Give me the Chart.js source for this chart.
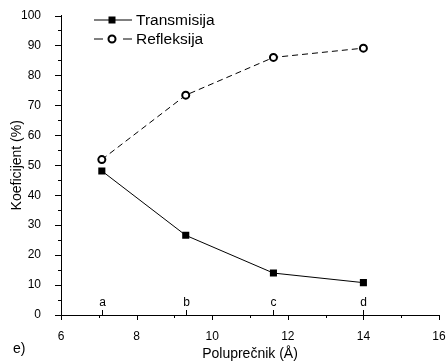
<!DOCTYPE html>
<html>
<head>
<meta charset="utf-8">
<script src="https://cdn.jsdelivr.net/npm/chart.js@4"></script>
<style>
  html, body { margin: 0; padding: 0; background: #fff; }
  #wrap { width: 447px; height: 363px; }
</style>
</head>
<body>
<div id="wrap"><canvas id="chart" width="447" height="363"></canvas></div>
<script>
// values
const radius = [7.08, 9.3, 11.62, 14.0];
const transmisija = [48.1, 26.6, 14.0, 10.8];
const refleksija = [51.9, 73.4, 86.0, 89.1];
const pointNames = ['a', 'b', 'c', 'd'];
const seriesNames = ['Transmisija', 'Refleksija'];

const FONT = 'Liberation Sans, Arial, sans-serif';

// outward ticks (major + minor), legend, a-d markers, "e)"
const decorations = {
    id: 'decorations',
    afterDraw(chart) {
        const ctx = chart.ctx;
        const xs = chart.scales.x, ys = chart.scales.y;
        const area = chart.chartArea;
        ctx.save();
        ctx.strokeStyle = '#000';
        ctx.lineWidth = 1;

        // x ticks
        for (let v = 6; v <= 16; v++) {
            const px = Math.round(xs.getPixelForValue(v)) + 0.5;
            const len = v % 2 === 0 ? 5 : 3;
            ctx.beginPath();
            ctx.moveTo(px, area.bottom);
            ctx.lineTo(px, area.bottom + len);
            ctx.stroke();
        }
        // y ticks
        for (let v = 0; v <= 100; v += 5) {
            const py = Math.round(ys.getPixelForValue(v)) + 0.5;
            const len = v % 10 === 0 ? 6 : 3;
            ctx.beginPath();
            ctx.moveTo(area.left, py);
            ctx.lineTo(area.left - len, py);
            ctx.stroke();
        }

        // a, b, c, d marks
        ctx.fillStyle = '#000';
        ctx.font = '12px ' + FONT;
        ctx.textAlign = 'center';
        ctx.textBaseline = 'alphabetic';
        radius.forEach((r, i) => {
            const px = Math.round(xs.getPixelForValue(r)) + 0.5;
            ctx.beginPath();
            ctx.moveTo(px, area.bottom);
            ctx.lineTo(px, area.bottom - 5);
            ctx.stroke();
            ctx.fillText(pointNames[i], px, area.bottom - 9);
        });

        // legend
        const lx = 94, lw = 38;
        ctx.font = '15.5px ' + FONT;
        ctx.textAlign = 'left';
        ctx.textBaseline = 'middle';
        chart.data.datasets.forEach((ds, i) => {
            const y = 20 + i * 19;
            ctx.strokeStyle = '#000';
            ctx.lineWidth = 1;
            ctx.beginPath();
            if (ds.borderDash) {
                ctx.moveTo(lx, y); ctx.lineTo(lx + 9, y);
                ctx.moveTo(lx + lw - 9, y); ctx.lineTo(lx + lw, y);
            } else {
                ctx.moveTo(lx, y); ctx.lineTo(lx + lw, y);
            }
            ctx.stroke();
            const mx = lx + 18;
            if (ds.pointStyle === 'rect') {
                ctx.fillStyle = '#000';
                ctx.fillRect(mx - 3.5, y - 3.5, 7, 7);
            } else {
                ctx.lineWidth = 2;
                ctx.fillStyle = '#fff';
                ctx.beginPath();
                ctx.arc(mx, y, 3.5, 0, Math.PI * 2);
                ctx.fill();
                ctx.stroke();
            }
            ctx.fillStyle = '#000';
            ctx.fillText(ds.label, lx + lw + 4, y + 1);
        });

        // panel letter
        ctx.font = '14px ' + FONT;
        ctx.textAlign = 'left';
        ctx.fillText('e)', 13, 349);
        ctx.restore();
    }
};

new Chart(document.getElementById('chart').getContext('2d'), {
    type: 'line',
    data: {
        datasets: [
            {
                label: seriesNames[0],
                data: radius.map((r, i) => ({ x: r, y: transmisija[i] })),
                borderColor: '#000',
                borderWidth: 1,
                pointStyle: 'rect',
                pointRadius: 5,
                pointBackgroundColor: '#000',
                pointBorderColor: '#000',
                pointBorderWidth: 0,
                tension: 0
            },
            {
                label: seriesNames[1],
                data: radius.map((r, i) => ({ x: r, y: refleksija[i] })),
                borderColor: '#000',
                borderWidth: 1,
                borderDash: [6, 4],
                pointStyle: 'circle',
                pointRadius: 3.5,
                pointBackgroundColor: '#fff',
                pointBorderColor: '#000',
                pointBorderWidth: 2,
                tension: 0
            }
        ]
    },
    options: {
        responsive: false,
        animation: false,
        layout: { padding: { top: 15.5, right: 8, left: 0, bottom: 0 } },
        plugins: {
            legend: { display: false },
            tooltip: { enabled: false }
        },
        scales: {
            x: {
                type: 'linear',
                min: 6,
                max: 16,
                grid: { display: false },
                border: { display: true, color: '#000', width: 1 },
                ticks: {
                    stepSize: 2,
                    color: '#000',
                    padding: 6,
                    maxRotation: 0,
                    font: { family: FONT, size: 12 }
                },
                title: {
                    display: true,
                    text: 'Poluprečnik (Å)',
                    color: '#000',
                    padding: { top: 4, bottom: 0 },
                    font: { family: FONT, size: 14 }
                },
                afterFit(scale) {
                    scale.height = 48;
                    scale.paddingLeft = 0;
                    scale.paddingRight = 0;
                }
            },
            y: {
                min: 0,
                max: 100,
                grid: { display: false },
                border: { display: true, color: '#000', width: 1 },
                ticks: {
                    stepSize: 10,
                    color: '#000',
                    padding: 12,
                    font: { family: FONT, size: 12 }
                },
                title: {
                    display: true,
                    text: 'Koeficijent (%)',
                    color: '#000',
                    padding: { top: 9, bottom: 4 },
                    font: { family: FONT, size: 14 }
                },
                afterFit(scale) {
                    scale.width = 61;
                    scale.paddingTop = 0;
                    scale.paddingBottom = 0;
                }
            }
        }
    },
    plugins: [decorations]
});
</script>
</body>
</html>
